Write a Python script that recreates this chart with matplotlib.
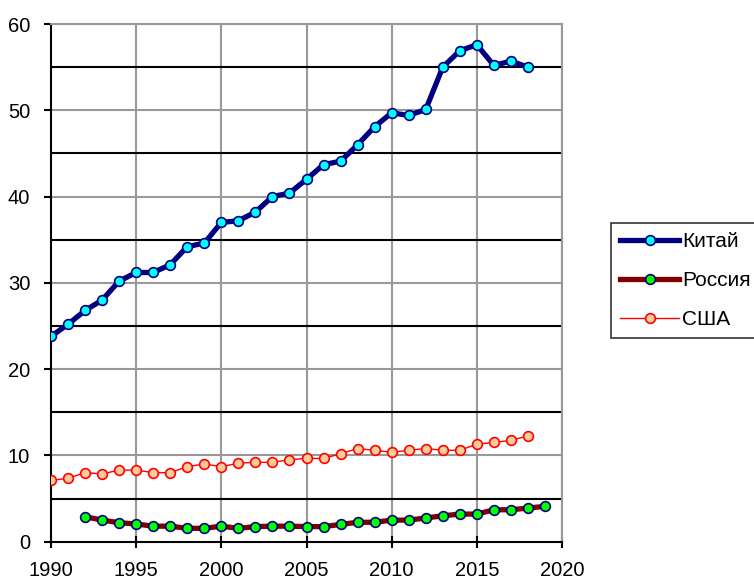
import matplotlib
matplotlib.use("Agg")
import matplotlib.pyplot as plt
from matplotlib.ticker import MultipleLocator

plt.rcParams['font.family'] = ['Liberation Sans', 'DejaVu Sans']

years_china = list(range(1990, 2019))
china = [23.8, 25.2, 26.8, 28.0, 30.2, 31.2, 31.2, 32.1, 34.2, 34.6,
         37.0, 37.2, 38.2, 40.0, 40.4, 42.0, 43.7, 44.1, 46.0, 48.1,
         49.7, 49.4, 50.1, 55.0, 56.9, 57.6, 55.2, 55.7, 55.0]

years_russia = list(range(1992, 2020))
russia = [2.9, 2.5, 2.2, 2.05, 1.8, 1.8, 1.55, 1.55, 1.8, 1.55,
          1.75, 1.8, 1.8, 1.75, 1.75, 2.0, 2.25, 2.25, 2.5, 2.5,
          2.75, 3.0, 3.2, 3.2, 3.7, 3.7, 3.9, 4.1]

years_usa = list(range(1990, 2019))
usa = [7.1, 7.35, 8.0, 7.85, 8.3, 8.3, 8.0, 8.0, 8.7, 9.0,
       8.7, 9.1, 9.2, 9.2, 9.5, 9.65, 9.65, 10.2, 10.8, 10.6,
       10.35, 10.6, 10.8, 10.6, 10.6, 11.3, 11.5, 11.75, 12.25]

labels = ['Китай', 'Россия', 'США']

fig = plt.figure(figsize=(7.54, 5.83), dpi=100)
ax = fig.add_axes([51/754, 1-541.7/583, (562-51)/754, (541.7-24)/583])

ax.set_xlim(1990, 2020)
ax.set_ylim(0, 60)

# grid: vertical grey every 5 yrs, horizontal grey at 10s, black at odd 5s
for x in range(1995, 2021, 5):
    ax.axvline(x, color='#999999', lw=1.5, zorder=0)
for y in range(10, 61, 10):
    ax.axhline(y, color='#999999', lw=1.5, zorder=0)
for y in range(5, 60, 10):
    ax.axhline(y, color='black', lw=1.5, zorder=0)

ax.plot(years_china, china, color='#000080', lw=3.8, marker='o', ms=7,
        mfc='#00FFFF', mec='#000080', mew=1.2, label=labels[0], zorder=3)
ax.plot(years_russia, russia, color='#800000', lw=3.8, marker='o', ms=7,
        mfc='#00FF00', mec='#000080', mew=1.2, label=labels[1], zorder=3)
ax.plot(years_usa, usa, color='#FF0000', lw=1.0, marker='o', ms=7,
        mfc='#FFCC99', mec='#FF0000', mew=1.2, label=labels[2], zorder=3)

ax.xaxis.set_major_locator(MultipleLocator(5))
ax.yaxis.set_major_locator(MultipleLocator(10))
ax.tick_params(axis='both', labelsize=14.5, colors='black', width=1.5)
ax.tick_params(axis='x', direction='inout', length=8, pad=10)
ax.tick_params(axis='y', direction='out', length=5, pad=10)

for s in ['left', 'bottom']:
    ax.spines[s].set_color('black')
    ax.spines[s].set_linewidth(1.5)
for s in ['top', 'right']:
    ax.spines[s].set_color('#999999')
    ax.spines[s].set_linewidth(1.5)

leg = fig.legend(loc='upper left', bbox_to_anchor=(611/754, 1-223/583),
                 fontsize=15, frameon=True, fancybox=False, edgecolor='black',
                 handlelength=2.8, handletextpad=0.15, borderpad=0.45,
                 labelspacing=0.95, borderaxespad=0)
leg.get_frame().set_linewidth(1.2)

fig.savefig('out.png', dpi=100)
